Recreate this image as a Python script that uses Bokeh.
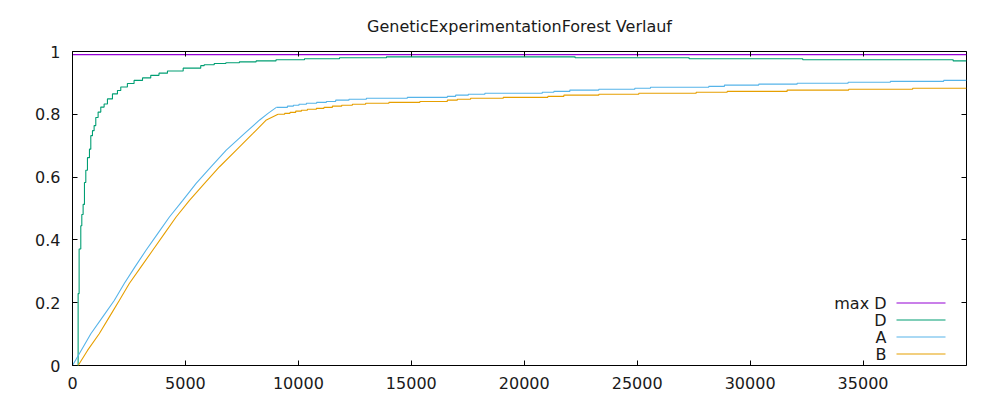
from bokeh.plotting import figure
from bokeh.models import (Range1d, LinearAxis, FixedTicker, CustomJSTickFormatter,
                          Arrow, Label)
from bokeh.embed import file_html
from bokeh.resources import INLINE

# ---------------- data ----------------
title_text = "GeneticExperimentationForest Verlauf"
series_names = ["max D", "D", "A", "B"]
series_colors = ["#9400d3", "#009e73", "#56b4e9", "#e69f00"]

x_max = 39580
x_ticks = [0, 5000, 10000, 15000, 20000, 25000, 30000, 35000]
y_ticks = [0, 0.2, 0.4, 0.6, 0.8, 1.0]

max_d_gen = [0, 39580]
max_d_val = [0.99, 0.99]

d_gen = [0, 249, 293, 367, 412, 470, 530, 589, 662, 751, 810, 884, 957, 1031, 1134,
         1252, 1400, 1547, 1769, 1990, 2137, 2430, 2726, 3100, 3464, 3830, 4204, 4900,
         5677, 5830, 6275, 6790, 7390, 8130, 9010, 10270, 11820, 13900, 22250, 27300,
         32330, 38990, 39580]
d_val = [0.0, 0.229, 0.371, 0.445, 0.481, 0.513, 0.583, 0.622, 0.662, 0.689, 0.732,
         0.748, 0.764, 0.790, 0.807, 0.823, 0.833, 0.849, 0.865, 0.876, 0.887, 0.898,
         0.908, 0.916, 0.924, 0.931, 0.938, 0.947, 0.955, 0.958, 0.962, 0.964, 0.967,
         0.970, 0.9735, 0.977, 0.980, 0.983, 0.980, 0.977, 0.9735, 0.970, 0.970]

a_rise_gen = [0, 812, 1331, 1848, 2292, 2766, 3254, 3772, 4290, 4882, 5474, 6140,
              6807, 7620, 8286, 8656, 9026]
a_rise_val = [0.0, 0.101, 0.154, 0.207, 0.261, 0.314, 0.367, 0.420, 0.473, 0.526,
              0.580, 0.633, 0.686, 0.739, 0.782, 0.803, 0.822]
a_plat_gen = [9026, 9514, 9779, 10027, 10355, 10810, 11240, 11651, 12240, 13010, 14824,
              16594, 16961, 17523, 18258, 20798, 21311, 22019, 23302, 24895, 25590,
              28170, 28864, 30382, 32081, 34338, 36210, 38569, 39580]
a_plat_val = [0.822, 0.826, 0.829, 0.832, 0.835, 0.838, 0.841, 0.845, 0.848, 0.851,
              0.854, 0.857, 0.861, 0.864, 0.867, 0.870, 0.873, 0.877, 0.880, 0.883,
              0.886, 0.889, 0.893, 0.896, 0.899, 0.902, 0.905, 0.908, 0.908]

b_rise_gen = [250, 665, 1183, 1627, 2071, 2515, 3033, 3551, 4069, 4587, 5179, 5845,
              6511, 7251, 7991, 8583, 9101]
b_rise_val = [0.0, 0.048, 0.101, 0.154, 0.207, 0.261, 0.314, 0.367, 0.420, 0.473,
              0.526, 0.580, 0.633, 0.686, 0.739, 0.782, 0.800]
b_plat_gen = [9101, 9394, 9629, 9881, 10133, 10399, 10797, 11133, 11505, 11917, 12390,
              12979, 14010, 15381, 16594, 17036, 17625, 19072, 21045, 21753, 23302,
              25072, 27612, 28984, 31639, 34365, 37197, 39580]
b_plat_val = [0.800, 0.803, 0.806, 0.810, 0.813, 0.816, 0.819, 0.822, 0.826, 0.829,
              0.832, 0.835, 0.838, 0.841, 0.845, 0.848, 0.851, 0.854, 0.857, 0.861,
              0.864, 0.867, 0.870, 0.873, 0.877, 0.880, 0.883, 0.883]

# ---------------- figure ----------------
FONT = "DejaVu Sans"
FS = "16px"
TXT = "#1a1a1a"
LW = 1.1

p = figure(width=1000, height=400, output_backend="svg", toolbar_location=None,
           x_range=Range1d(0, x_max), y_range=Range1d(0, 1),
           min_border_left=72, min_border_right=34, min_border_top=51,
           min_border_bottom=35)
p.background_fill_color = "white"
p.border_fill_color = "white"
p.outline_line_color = "black"
p.outline_line_width = 1
p.grid.visible = False

p.title.text = title_text
p.title.align = "center"
p.title.vertical_align = "top"
p.title.text_font = FONT
p.title.text_font_size = FS
p.title.text_font_style = "normal"
p.title.text_color = TXT
p.title.offset = -4
p.title.standoff = 27

fmt = CustomJSTickFormatter(code="return String(Math.round(tick*10)/10);")
blank = CustomJSTickFormatter(code="return '';")
p.xaxis.ticker = FixedTicker(ticks=x_ticks)
p.yaxis.ticker = FixedTicker(ticks=y_ticks)
p.yaxis.formatter = fmt
for ax in (p.xaxis[0], p.yaxis[0]):
    ax.axis_line_color = None
    ax.major_tick_in = 5
    ax.major_tick_out = 0
    ax.minor_tick_line_color = None
    ax.major_tick_line_color = "black"
    ax.major_label_text_font = FONT
    ax.major_label_text_font_size = FS
    ax.major_label_text_color = TXT
p.xaxis.major_label_standoff = 11
p.yaxis.major_label_standoff = 12

top = LinearAxis(ticker=FixedTicker(ticks=x_ticks), formatter=blank, axis_line_color=None,
                 major_tick_in=5, major_tick_out=0, minor_tick_line_color=None,
                 major_label_standoff=0)
right = LinearAxis(ticker=FixedTicker(ticks=y_ticks), formatter=blank, axis_line_color=None,
                   major_tick_in=5, major_tick_out=0, minor_tick_line_color=None,
                   major_label_standoff=0)
p.add_layout(top, "above")
p.add_layout(right, "right")

# ---------------- series ----------------
p.line(max_d_gen, max_d_val, line_color=series_colors[0], line_width=LW)
p.step(d_gen, d_val, mode="after", line_color=series_colors[1], line_width=LW)
p.line(a_rise_gen, a_rise_val, line_color=series_colors[2], line_width=LW)
p.step(a_plat_gen, a_plat_val, mode="after", line_color=series_colors[2], line_width=LW)
p.line(b_rise_gen, b_rise_val, line_color=series_colors[3], line_width=LW)
p.step(b_plat_gen, b_plat_val, mode="after", line_color=series_colors[3], line_width=LW)

# ---------------- key (gnuplot style: text left, sample right) ----------------
row_h = 17
first_row_y = 62.5
text_right = 814
sample_left, sample_len = 824, 49
for i, (name, col) in enumerate(zip(series_names, series_colors)):
    yy = first_row_y - i * row_h
    p.add_layout(Label(x=text_right, y=yy, x_units="screen", y_units="screen",
                       text=name, text_align="right", text_baseline="middle",
                       text_font=FONT, text_font_size=FS, text_color=TXT))
    p.add_layout(Arrow(end=None, x_start=sample_left, y_start=yy,
                       x_end=sample_left + sample_len, y_end=yy,
                       start_units="screen", end_units="screen",
                       line_color=col, line_width=LW))

open("out.html", "w").write(file_html(p, INLINE))
